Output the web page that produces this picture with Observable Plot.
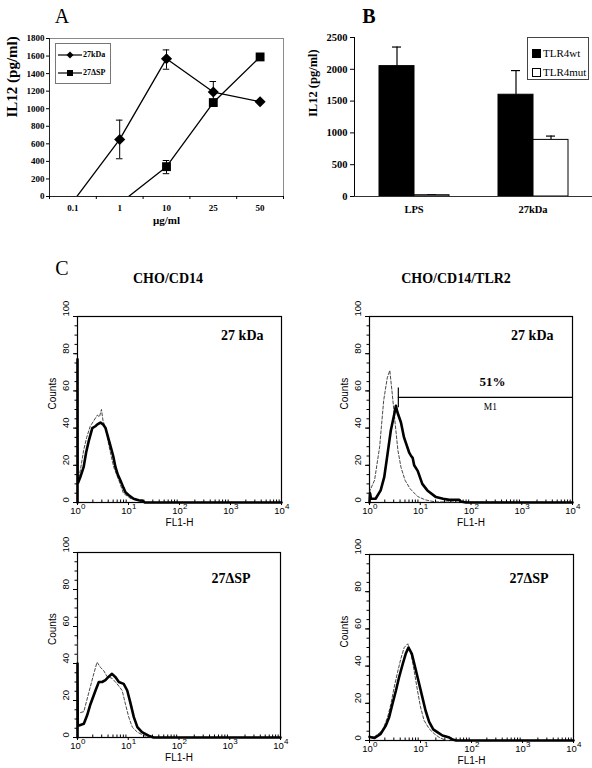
<!DOCTYPE html>
<html><head><meta charset="utf-8">
<script src="https://cdn.jsdelivr.net/npm/d3@7"></script>
<script src="https://cdn.jsdelivr.net/npm/@observablehq/plot@0.6"></script>
<style>
body{margin:0;background:#fff;}
#root{position:relative;width:592px;height:768px;overflow:hidden;background:#fff;}
.abs{position:absolute;}
.lbl{position:absolute;transform:translate(-50%,-50%);white-space:nowrap;line-height:1;font-family:"Liberation Serif",serif;color:#000;}
</style></head><body><div id="root"></div>
<script>
// ---------- Panel A data ----------
const doseLabels = ["0.1", "1", "10", "25", "50"];
const kDa27 = [-60, 650, 1570, 1190, 1080];
const kDa27Lo = [null, 430, 1450, 1070, null];
const kDa27Hi = [null, 870, 1670, 1310, null];
const dSP27 = [null, -80, 340, 1070, 1590];
const dSP27Lo = [null, null, 260, null, null];
const dSP27Hi = [null, null, 410, null, null];
const yTicksA = [0, 200, 400, 600, 800, 1000, 1200, 1400, 1600, 1800];

// ---------- Panel B data ----------
const groupsB = ["LPS", "27kDa"];
const seriesB = ["TLR4wt", "TLR4mut"];
const wtB = [2050, 1600];
const wtHiB = [2350, 1980];
const mutB = [20, 890];
const mutHiB = [30, 950];
const yTicksB = [0, 500, 1000, 1500, 2000, 2500];

// ---------- Panel C data (log10 FL1-H, counts) ----------
const tlSolidLg = [0, 0, 0.003, 0.06, 0.12, 0.17, 0.22, 0.29, 0.35, 0.39, 0.45, 0.5, 0.55, 0.6, 0.65, 0.7, 0.745, 0.79, 0.84, 0.9, 0.94, 1.0, 1.1, 1.2, 1.27, 1.32, 4];
const tlSolidCt = [0, 77, 10, 14, 19, 27, 33, 40, 41, 42, 43, 42, 40, 35, 30, 25, 19, 15, 12, 8, 5.5, 4, 2, 1.2, 1, 0, 0];
const tlDashLg = [0, 0, 0.003, 0.06, 0.12, 0.18, 0.25, 0.32, 0.39, 0.43, 0.47, 0.5, 0.55, 0.62, 0.71, 0.81, 0.9, 0.97, 1.05, 1.2, 1.3, 4];
const tlDashCt = [0, 45, 10, 18, 28, 35, 41, 44, 47, 46, 50, 44, 40, 30, 19, 12, 5, 3.5, 2, 1, 0, 0];
const trSolidLg = [0, 0.01, 0.03, 0.12, 0.22, 0.29, 0.355, 0.42, 0.49, 0.52, 0.55, 0.62, 0.68, 0.78, 0.82, 0.85, 0.88, 0.95, 1.04, 1.14, 1.31, 1.45, 1.57, 1.7, 1.77, 1.8, 1.9, 4];
const trSolidCt = [0, 5, 2, 2, 6.5, 13.6, 26, 38.7, 47.7, 52, 48.5, 43, 35, 27, 25, 24, 20, 17, 10, 6.5, 2.9, 2, 1.4, 1.5, 1.5, 0.5, 0, 0];
const trDashLg = [0, 0.01, 0.1, 0.2, 0.28, 0.35, 0.4, 0.45, 0.5, 0.56, 0.62, 0.7, 0.8, 0.95, 1.1, 1.3, 4];
const trDashCt = [0, 6.5, 12, 30, 55, 67, 71, 58, 44, 28, 19, 12, 7.4, 3.2, 1.4, 0.3, 0];
const blSolidLg = [0, 0, 0.005, 0.03, 0.125, 0.19, 0.255, 0.355, 0.42, 0.485, 0.55, 0.62, 0.68, 0.75, 0.815, 0.91, 0.98, 1.04, 1.11, 1.18, 1.27, 1.4, 1.5, 4];
const blSolidCt = [0, 40, 7, 6.5, 7.4, 12, 18, 25.4, 30, 30, 31, 33, 34.4, 32.6, 30, 29, 25.4, 19, 11, 5.6, 2.9, 1, 0, 0];
const blDashLg = [0, 0, 0.005, 0.125, 0.22, 0.32, 0.385, 0.45, 0.52, 0.58, 0.68, 0.78, 0.88, 0.945, 1.01, 1.08, 1.18, 1.31, 1.45, 4];
const blDashCt = [0, 53, 13, 14, 24, 34.4, 40.7, 38, 36, 33, 32, 29, 25.4, 18, 11, 5.6, 2.9, 1, 0, 0];
const brSolidLg = [0, 0.03, 0.1, 0.22, 0.32, 0.385, 0.45, 0.52, 0.58, 0.65, 0.71, 0.765, 0.83, 0.895, 0.96, 1.03, 1.1, 1.17, 1.25, 1.33, 1.43, 1.55, 1.63, 1.7, 4];
const brSolidCt = [2, 1.8, 1.4, 3.6, 8, 12.5, 19.7, 27, 34, 41, 46.6, 50, 46.6, 39.4, 32, 24, 16, 10, 6, 4.5, 2.7, 1.8, 0.5, 0, 0];
const brDashLg = [0, 0.1, 0.255, 0.355, 0.42, 0.485, 0.55, 0.615, 0.68, 0.75, 0.81, 0.875, 0.94, 1.0, 1.07, 1.17, 1.27, 1.36, 1.5, 4];
const brDashCt = [2, 2, 5.4, 12.5, 19.7, 28.7, 36.7, 44, 50, 52, 47.5, 37.6, 27, 18, 10.8, 6.3, 3.6, 1.8, 0, 0];
const m1Gate = [3.7, 10000];
const m1Level = 56.5;
const m1Percent = "51%";
const histTicksX = [1, 10, 100, 1000, 10000];
const histTicksY = [0, 20, 40, 60, 80, 100];

const SERIF = "Liberation Serif, Times New Roman, serif";
const SANS = "Liberation Sans, Arial, sans-serif";
const root = document.getElementById("root");

function place(node, left, top) {
  const d = document.createElement("div");
  d.className = "abs";
  d.style.left = left + "px";
  d.style.top = top + "px";
  d.appendChild(node);
  root.appendChild(d);
  return d;
}
function label(text, x, y, css) {
  const d = document.createElement("div");
  d.className = "lbl";
  d.textContent = text;
  d.style.left = x + "px";
  d.style.top = y + "px";
  Object.assign(d.style, css || {});
  root.appendChild(d);
  return d;
}

// ---------- Panel A ----------
const rowsA = [];
[["27kDa", kDa27, kDa27Lo, kDa27Hi], ["27ΔSP", dSP27, dSP27Lo, dSP27Hi]].forEach(([name, vals, lo, hi]) => {
  vals.forEach((v, i) => { if (v != null) rowsA.push({series: name, i, value: v, lo: lo[i], hi: hi[i]}); });
});
const errA = rowsA.filter(d => d.hi != null);
const plotA = Plot.plot({
  width: 290, height: 240,
  marginLeft: 49, marginRight: 7, marginTop: 38, marginBottom: 44,
  x: {domain: [-0.5, 4.5]},
  y: {domain: [0, 1800]},
  style: {fontFamily: SERIF, fontWeight: "bold", fontSize: "9px", background: "transparent", overflow: "visible"},
  marks: [
    Plot.frame({stroke: "#8a8a8a"}),
    Plot.ruleX([-0.5], {stroke: "#222"}),
    Plot.ruleY([0], {stroke: "#222"}),
    Plot.axisY({ticks: yTicksA, tickSize: 3, tickPadding: 2, tickFormat: d => String(d), label: null}),
    Plot.axisX({ticks: doseLabels.map((_, i) => i), tickFormat: i => doseLabels[i], tickSize: 0, tickPadding: 8, label: null}),
    Plot.axisX({ticks: doseLabels.map((_, i) => i - 0.5).concat([doseLabels.length - 0.5]), tickSize: 3, tickFormat: () => "", label: null}),
    Plot.line(rowsA, {x: "i", y: "value", z: "series", stroke: "black", strokeWidth: 1.3, clip: true}),
    Plot.ruleX(errA, {x: "i", y1: "lo", y2: "hi", stroke: "black", strokeWidth: 1}),
    Plot.ruleY(errA, {x1: d => d.i - 0.07, x2: d => d.i + 0.07, y: "hi", stroke: "black"}),
    Plot.ruleY(errA, {x1: d => d.i - 0.07, x2: d => d.i + 0.07, y: "lo", stroke: "black"}),
    Plot.dot(rowsA.filter(d => d.series === "27kDa" && d.value > 0), {x: "i", y: "value", symbol: "diamond2", r: 5, fill: "black", stroke: "none"}),
    Plot.dot(rowsA.filter(d => d.series === "27ΔSP" && d.value > 0), {x: "i", y: "value", symbol: "square", r: 5, fill: "black", stroke: "none"}),
    Plot.text(["μg/ml"], {frameAnchor: "bottom", dy: 27, fontSize: 11, fontWeight: "bold"}),
    Plot.text(["IL12 (pg/ml)"], {frameAnchor: "left", dx: -37, rotate: -90, fontSize: 15, fontWeight: "bold"})
  ]
});
place(plotA, 0, 0);

// Legend A
(function () {
  const box = document.createElement("div");
  box.className = "abs";
  Object.assign(box.style, {left: "55px", top: "43px", width: "54px", height: "39px", border: "1px solid #777", background: "#fff"});
  const entries = [["27kDa", "diamond"], ["27ΔSP", "square"]];
  entries.forEach(([name, sym], k) => {
    const cy = k === 0 ? 11 : 29;
    const svg = d3.create("svg").attr("width", 24).attr("height", 10)
      .style("position", "absolute").style("left", "2px").style("top", (cy - 5) + "px");
    svg.append("line").attr("x1", 0).attr("x2", 24).attr("y1", 5).attr("y2", 5).attr("stroke", "black").attr("stroke-width", 1.2);
    if (sym === "diamond") svg.append("path").attr("d", "M12,1.5L15.5,5L12,8.5L8.5,5Z").attr("fill", "black");
    else svg.append("rect").attr("x", 9).attr("y", 2).attr("width", 6).attr("height", 6).attr("fill", "black");
    box.appendChild(svg.node());
    const t = document.createElement("div");
    t.textContent = name;
    Object.assign(t.style, {position: "absolute", left: "27px", top: (cy - 5) + "px", fontFamily: SERIF, fontSize: "8px", lineHeight: "10px", fontWeight: "bold"});
    box.appendChild(t);
  });
  root.appendChild(box);
})();

// ---------- Panel B ----------
const rowsB = [];
groupsB.forEach((g, i) => {
  rowsB.push({group: g, series: "TLR4wt", value: wtB[i], hi: wtHiB[i]});
  rowsB.push({group: g, series: "TLR4mut", value: mutB[i], hi: mutHiB[i]});
});
const plotB = Plot.plot({
  width: 302, height: 240,
  marginLeft: 64, marginRight: 0, marginTop: 37, marginBottom: 44,
  fx: {domain: groupsB, padding: 0, label: null, axis: "bottom", tickSize: 0, tickPadding: 9},
  x: {domain: seriesB, paddingInner: 0, paddingOuter: 0.7, axis: null},
  y: {domain: [0, 2500], ticks: yTicksB, tickSize: 4, tickPadding: 3, tickFormat: d => String(d), line: true, label: null},
  style: {fontFamily: SERIF, fontWeight: "bold", fontSize: "10.5px", background: "transparent", overflow: "visible"},
  marks: [
    Plot.ruleX(rowsB, {fx: "group", x: "series", y1: "value", y2: "hi", stroke: "black", strokeWidth: 1.2}),
    Plot.tickY(rowsB, {fx: "group", x: "series", y: "hi", stroke: "black", strokeWidth: 1.2, insetLeft: 13, insetRight: 13}),
    Plot.barY(rowsB.filter(d => d.series === "TLR4wt"), {fx: "group", x: "series", y: "value", fill: "black", stroke: "black"}),
    Plot.barY(rowsB.filter(d => d.series === "TLR4mut"), {fx: "group", x: "series", y: "value", fill: "white", stroke: "black"}),
    Plot.ruleY([0], {stroke: "#333"}),
    Plot.text(["IL12 (pg/ml)"], {facet: "super", frameAnchor: "left", dx: -42, rotate: -90, fontSize: 12.5, fontWeight: "bold"})
  ]
});
place(plotB, 290, 0);

// Legend B
(function () {
  const box = document.createElement("div");
  box.className = "abs";
  Object.assign(box.style, {left: "527px", top: "37px", width: "60px", height: "41px", border: "1px solid #444", background: "#fff"});
  seriesB.forEach((name, k) => {
    const cy = k === 0 ? 15 : 34;
    const sq = document.createElement("div");
    Object.assign(sq.style, {position: "absolute", left: "4px", top: (cy - 4) + "px", width: "7px", height: "7px", border: "1px solid black", background: k === 0 ? "black" : "white"});
    box.appendChild(sq);
    const t = document.createElement("div");
    t.textContent = name;
    Object.assign(t.style, {position: "absolute", left: "15px", top: (cy - 6) + "px", fontFamily: SERIF, fontSize: "11px", lineHeight: "12px"});
    box.appendChild(t);
  });
  root.appendChild(box);
})();

// ---------- Panel C ----------
function rowsOf(lg, ct) { return lg.map((v, i) => ({fl: Math.pow(10, v), count: ct[i]})); }
const minorX = [];
for (let d = 0; d < 4; d++) for (let k = 2; k <= 9; k++) minorX.push(k * Math.pow(10, d));
const minorY = d3.range(0, 101, 5);

function histPlot(o) {
  const marks = [
    Plot.frame({stroke: "black", strokeWidth: 1.2}),
    Plot.line(rowsOf(o.dashLg, o.dashCt), {x: "fl", y: "count", stroke: "#333", strokeWidth: 0.9, strokeDasharray: "3,2"}),
    Plot.line(rowsOf(o.solidLg, o.solidCt), {x: "fl", y: "count", stroke: "black", strokeWidth: 2.6}),
    Plot.axisX({ticks: histTicksX, tickSize: 3, tickFormat: () => "", label: null}),
    Plot.axisX({ticks: minorX, tickSize: -2.5, tickFormat: () => "", label: null}),
    Plot.text(histTicksX, {x: d => d, text: () => "10", frameAnchor: "bottom", dy: 11, dx: -2, fontSize: 9.5}),
    Plot.text(histTicksX, {x: d => d, text: d => String(Math.round(Math.log10(d))), frameAnchor: "bottom", dy: 6, dx: 3.5, fontSize: 8, textAnchor: "start"}),
    Plot.axisY({ticks: histTicksY, tickSize: 4, tickFormat: () => "", label: null}),
    Plot.axisY({ticks: minorY, tickSize: 2.5, tickFormat: () => "", label: null}),
    Plot.text(histTicksY, {y: d => d, text: d => String(d), frameAnchor: "left", dx: -12, rotate: -90, fontSize: 9.5}),
    Plot.text(["Counts"], {frameAnchor: "left", dx: -25, rotate: -90, fontSize: 10}),
    Plot.text(["FL1-H"], {frameAnchor: "bottom", dy: 23, fontSize: 10}),
    Plot.text([o.label], {frameAnchor: "top-right", textAnchor: "end", dx: o.ldx, dy: o.ldy, fontFamily: SERIF, fontWeight: "bold", fontSize: 14})
  ];
  if (o.gate) {
    const gx = Math.sqrt(m1Gate[0] * m1Gate[1]);
    marks.push(
      Plot.ruleY([m1Level], {x1: m1Gate[0], x2: m1Gate[1], stroke: "black", strokeWidth: 1.2}),
      Plot.ruleX([m1Gate[0]], {y1: m1Level - 5.5, y2: m1Level + 5, stroke: "black", strokeWidth: 1.2}),
      Plot.text([m1Percent], {x: () => gx, y: () => m1Level, dx: 7, dy: -16, fontFamily: SERIF, fontWeight: "bold", fontSize: 13}),
      Plot.text(["M1"], {x: () => gx, y: () => m1Level, dx: 5, dy: 10, fontFamily: SERIF, fontSize: 9.5})
    );
  }
  return Plot.plot({
    width: o.w, height: o.h,
    marginLeft: o.ml, marginRight: o.mr, marginTop: o.mt, marginBottom: o.mb,
    x: {type: "log", domain: [1, 10000]},
    y: {domain: [0, 100]},
    style: {fontFamily: SANS, fontSize: "9.5px", background: "transparent", overflow: "visible"},
    marks
  });
}

place(histPlot({w: 280, h: 245, ml: 57, mr: 19, mt: 26, mb: 33, solidLg: tlSolidLg, solidCt: tlSolidCt, dashLg: tlDashLg, dashCt: tlDashCt, label: "27 kDa", ldx: -18, ldy: 14}), 20, 290);
place(histPlot({w: 292, h: 245, ml: 69, mr: 20, mt: 26, mb: 33, solidLg: trSolidLg, solidCt: trSolidCt, dashLg: trDashLg, dashCt: trDashCt, label: "27 kDa", ldx: -19, ldy: 14, gate: true}), 300, 290);
place(histPlot({w: 280, h: 242, ml: 57, mr: 20, mt: 26, mb: 31, solidLg: blSolidLg, solidCt: blSolidCt, dashLg: blDashLg, dashCt: blDashCt, label: "27ΔSP", ldx: -30, ldy: 21}), 20, 526);
place(histPlot({w: 292, h: 240, ml: 69, mr: 19, mt: 26, mb: 28, solidLg: brSolidLg, solidCt: brSolidCt, dashLg: brDashLg, dashCt: brDashCt, label: "27ΔSP", ldx: -25, ldy: 19}), 300, 528);

// Panel letters and titles
label("A", 62, 16, {fontSize: "20px"});
label("B", 369, 16, {fontSize: "20px", fontWeight: "bold"});
label("C", 62, 268, {fontSize: "20px"});
label("CHO/CD14", 168, 279, {fontSize: "14px", fontWeight: "bold"});
label("CHO/CD14/TLR2", 456, 279, {fontSize: "14px", fontWeight: "bold"});
</script></body></html>
